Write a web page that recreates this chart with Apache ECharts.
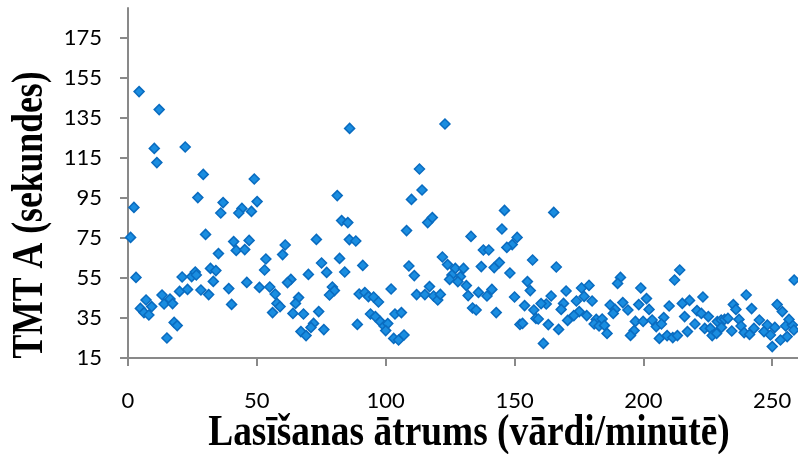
<!DOCTYPE html>
<html>
<head>
<meta charset="utf-8">
<script src="https://cdn.jsdelivr.net/npm/echarts@6/dist/echarts.min.js"></script>
<style>
html,body{margin:0;padding:0;background:#fff;}
#chart{width:798px;height:454px;}
</style>
</head>
<body>
<div id="chart"></div>
<script>
// Reading speed (words/minute) and TMT A time (seconds)
var readingSpeed = [
4.3,12.1,10.2,11.2,22.2,29.2,49,86,81.2,123,113.1,114.1,110,
2.3,27.1,36.9,50.1,36,44.2,43,47.9,1,30.1,41,42,45.3,47,35.1,32,34.1,3.1,21,24.7,26.1,26.5,33.1,28.3,31.3,20,23.1,39.1,40.2,46.1,51,53,53.5,13.2,14,16.3,17.3,7,4.8,6.2,9.2,8.1,17.9,19.1,15.1,
82.9,85.3,73.1,85.9,88.4,61,60,82.1,75.1,91.1,77.1,84.1,70,63.2,61.9,55,57.1,79.3,80.1,78.2,66.2,65,57.8,59,56.1,64,68.1,74,72,71,76,67.1,69.1,89,89.7,91.9,93.3,95.3,97.2,102.1,94.1,96,97.9,99.4,100.8,100,103.6,103.1,105,
116.3,118.1,108.1,146.1,145.1,133.1,151,149.1,147,137.9,140,157,122,124,109,111.1,127,130.2,125.7,129,124.8,128,131.3,137.1,142.1,144.1,148.2,117,112,115.2,118.6,120.2,121.2,136,141.2,139.3,132,155,156.1,150,133.7,135.1,142.9,153.9,157.5,152.1,153.1,158.3,106.1,107.1,
165.2,166.2,164.2,162.3,160.3,159.2,163.1,167.1,161.2,170,169,168.1,176,178.9,177,174,180.1,175.1,173,170.6,178,181.7,184,180.9,182.8,184.9,185.9,191.1,190,187.1,189,188.3,192,194,199,201.2,198.2,202.2,196.9,199.9,196.4,195,203.4,205,207.9,207,210,206.2,209.2,211.4,212.1,
214.1,258.5,223.1,239.9,215.1,217.9,242,234.9,235.9,251.9,253.9,220.8,222.5,216,225.2,220,223.8,217.1,213.2,226,226.7,228.7,230.2,231.5,232.8,230.3,228.4,234.3,237.1,237.9,239.1,241.2,242.9,245,248.1,246.8,249.3,251,255.2,257.8,256.5,258.4,250,253.2,255.8
];
var tmtA = [
148.2,139.2,119.8,112.7,120.5,106.8,104.5,129.8,96.2,132,109.5,99,94.3,
90.3,95.2,92.7,93.2,87.5,89.8,87.5,88.3,75.3,76.8,73.2,68.8,69.2,73.8,67.2,59.8,58.7,55.3,55.5,55.7,58,56.5,53.3,49,46.7,48.3,49.3,49.7,41.8,52.8,50.3,59,64.5,46.5,42,44.5,42.2,44,39.8,37.7,40.7,36.5,32.8,31.2,25,
83.7,82.7,74.3,74.2,73.5,71.5,66.7,64.8,62.5,61.3,57.8,58,56.8,54.3,52.7,50.5,47,50.5,48.7,46.5,45.2,42.3,42.3,40.7,37.7,37.3,37,38.2,32.3,30.3,29.2,28.2,26.2,31.8,47,47.7,45.7,45.5,43,49.5,37,35.7,33.2,31,32.2,28.7,37,24.8,24,
82.7,85.2,78.7,88.8,79.5,75.8,75.3,71.7,70.3,69,69,64,65.5,61.7,61,56.2,59.8,59.8,56.5,55.7,54.3,53.2,51.2,60.7,60.2,62.7,57.5,50.7,46.7,46.7,46,44,46.8,47.8,49.3,46,46.2,53.2,48.7,45.5,40,39,37.7,41.2,39,31.8,32.3,34.8,37.7,26.5,
87.8,60.5,46,42,42.2,34.5,31.7,29.3,22.3,48.5,42.3,39.3,50,51.3,45.8,43.5,43.5,38.2,36.2,33.8,36.2,34.3,34.5,32,31,31.3,27.3,55.3,52.3,41.5,39.3,37.3,42.7,39,50,44.7,41.7,39.3,33.3,33.3,28.7,26.3,34,30.7,35.2,32,41,24.8,26.2,25.2,54,
59,54,45.5,46.5,42.3,43.8,39.7,41.7,39.3,41.7,38.2,38.7,37.3,35.7,35.7,32,29.8,28.2,26.2,29.8,26.2,33.2,34,34.3,34.8,30.3,27.3,28.5,34.3,31,27.7,26.8,29.8,34,31.5,28.2,26.5,30.3,31,31.5,34.3,29,20.7,24,25.7
];
var xTicks = [0, 50, 100, 150, 200, 250];
var yTicks = [15, 35, 55, 75, 95, 115, 135, 155, 175];
var xTitle = 'Lasīšanas ātrums (vārdi/minūtē)';
var yTitle = 'TMT A (sekundes)';

var points = readingSpeed.map(function (x, i) { return [x, tmtA[i]]; });

var chart = echarts.init(document.getElementById('chart'), null, {renderer: 'canvas'});
var axisLineStyle = {color: '#898989', width: 2};
var labelStyle = {fontFamily: 'Lato', fontSize: 22, color: '#000'};
chart.setOption({
  animation: false,
  backgroundColor: '#fff',
  grid: {left: 128, right: 0, top: 8, bottom: 96, containLabel: false},
  xAxis: {
    type: 'value', min: 0, max: 260,
    axisLine: {show: true, onZero: false, lineStyle: axisLineStyle},
    axisTick: {show: true, length: 8, inside: false, lineStyle: axisLineStyle, customValues: xTicks},
    axisLabel: Object.assign({margin: 32, customValues: xTicks}, labelStyle),
    splitLine: {show: false}
  },
  yAxis: {
    type: 'value', min: 15, max: 190,
    axisLine: {show: true, onZero: false, lineStyle: axisLineStyle},
    axisTick: {show: true, length: 8, inside: false, lineStyle: axisLineStyle, customValues: yTicks},
    axisLabel: Object.assign({margin: 26, customValues: yTicks}, labelStyle),
    splitLine: {show: false}
  },
  series: [{
    type: 'scatter',
    data: points,
    symbol: 'diamond',
    symbolSize: 10,
    itemStyle: {color: '#1a8de0', borderColor: '#0a6cc0', borderWidth: 1.5, opacity: 1},
    clip: false
  }],
  graphic: [
    {type: 'text', x: 469, y: 434, scaleX: 0.85,
     style: {text: xTitle, fontFamily: 'Liberation Serif', fontWeight: 'bold', fontSize: 44, fill: '#000', align: 'center', verticalAlign: 'middle'}},
    {type: 'text', x: 31, y: 215, rotation: Math.PI / 2, scaleX: 0.81,
     style: {text: yTitle, fontFamily: 'Liberation Serif', fontWeight: 'bold', fontSize: 44, fill: '#000', align: 'center', verticalAlign: 'middle'}}
  ]
});
</script>
</body>
</html>
